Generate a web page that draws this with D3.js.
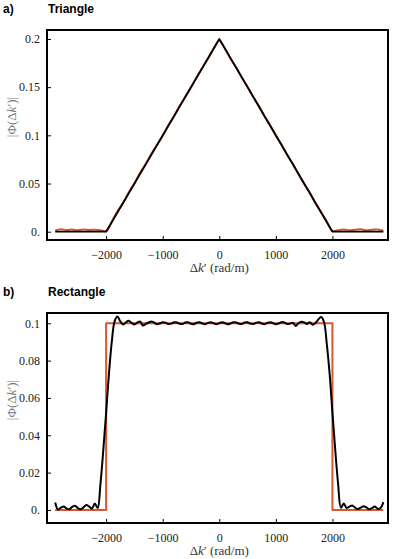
<!DOCTYPE html>
<html>
<head>
<meta charset="utf-8">
<script src="https://cdn.jsdelivr.net/npm/d3@7"></script>
<style>
  body { margin: 0; background: #fff; }
  .tick text { font-family: "Liberation Serif", serif; font-size: 12px; fill: #222; }
  .title { font-family: "Liberation Sans", Arial, sans-serif; font-weight: bold; font-size: 12px; }
  .axis-label { font-family: "Liberation Serif", serif; font-size: 13px; }
</style>
</head>
<body>
<svg id="chart"></svg>
<script>
// x ticks shared by both panels
const xTicks = [-2000, -1000, 0, 1000, 2000];
const triYTicks = [0, 0.05, 0.1, 0.15, 0.2];
const rectYTicks = [0, 0.02, 0.04, 0.06, 0.08, 0.1];

// triangle: target (orange) sampled every 100 rad/m
const triK = [-2900, -2800, -2700, -2600, -2500, -2400, -2300, -2200, -2100, -2000,
  -1900, -1800, -1700, -1600, -1500, -1400, -1300, -1200, -1100, -1000,
  -900, -800, -700, -600, -500, -400, -300, -200, -100, 0,
  100, 200, 300, 400, 500, 600, 700, 800, 900, 1000,
  1100, 1200, 1300, 1400, 1500, 1600, 1700, 1800, 1900, 2000,
  2100, 2200, 2300, 2400, 2500, 2600, 2700, 2800, 2900];
const triTarget = [0.0012, 0.0025, 0.0018, 0.0022, 0.0015, 0.0024, 0.0019, 0.0021, 0.0014, 0.0008,
  0.0104, 0.0212, 0.0297, 0.0406, 0.0503, 0.0611, 0.0702, 0.0809, 0.0901, 0.0996,
  0.1104, 0.1197, 0.1306, 0.1401, 0.1497, 0.1604, 0.1701, 0.1795, 0.1898, 0.1985,
  0.1902, 0.1794, 0.1703, 0.1597, 0.1504, 0.1398, 0.1304, 0.1195, 0.1103, 0.0997,
  0.0904, 0.0796, 0.0705, 0.0599, 0.0497, 0.0408, 0.0296, 0.0203, 0.0106, 0.0009,
  0.0016, 0.0023, 0.0015, 0.0021, 0.0026, 0.0014, 0.0020, 0.0024, 0.0011];
// triangle: result (black)
const triResK = [-2900, -2000, 0, 2000, 2900];
const triResult = [0, 0, 0.2, 0, 0];

// rectangle: target (orange)
const rectK = [-2900, -2000, -2000, 2000, 2000, 2900];
const rectTarget = [0, 0, 0.1, 0.1, 0, 0];
// rectangle: result (black), every 50 rad/m
const rectResK = [-2900, -2850, -2800, -2750, -2700, -2650, -2600, -2550, -2500, -2450,
  -2400, -2350, -2300, -2250, -2200, -2150, -2100, -2050, -2000, -1950,
  -1900, -1850, -1800, -1750, -1700, -1650, -1600, -1550, -1500, -1450,
  -1400, -1350, -1300, -1250, -1200, -1150, -1100, -1050, -1000, -950,
  -900, -850, -800, -750, -700, -650, -600, -550, -500, -450,
  -400, -350, -300, -250, -200, -150, -100, -50, 0, 50,
  100, 150, 200, 250, 300, 350, 400, 450, 500, 550,
  600, 650, 700, 750, 800, 850, 900, 950, 1000, 1050,
  1100, 1150, 1200, 1250, 1300, 1350, 1400, 1450, 1500, 1550,
  1600, 1650, 1700, 1750, 1800, 1850, 1900, 1950, 2000, 2050,
  2100, 2150, 2200, 2250, 2300, 2350, 2400, 2450, 2500, 2550,
  2600, 2650, 2700, 2750, 2800, 2850, 2900];
const rectResult = [0.0040, 0.0002, 0.0012, 0.0018, 0.0008, 0.0004, 0.0016, 0.0022, 0.0010, 0.0004,
  0.0014, 0.0026, 0.0018, 0.0008, 0.0034, 0.0010, 0.0140, 0.0320, 0.0520, 0.0730,
  0.0900, 0.1010, 0.1036, 0.1010, 0.0993, 0.1005, 0.1013, 0.1002, 0.0994, 0.1003,
  0.1010, 0.0988, 0.0996, 0.1004, 0.1010, 0.1003, 0.0995, 0.0999, 0.1006, 0.1003,
  0.0996, 0.0998, 0.1005, 0.1004, 0.0997, 0.0996, 0.1004, 0.1005, 0.0998, 0.0995,
  0.1003, 0.1006, 0.0999, 0.0995, 0.1002, 0.1006, 0.1000, 0.0995, 0.1001, 0.1006,
  0.1001, 0.0995, 0.0999, 0.1005, 0.1004, 0.0997, 0.0996, 0.1004, 0.1005, 0.0998,
  0.0996, 0.1003, 0.1006, 0.0999, 0.0995, 0.1002, 0.1006, 0.1001, 0.0995, 0.0999,
  0.1006, 0.1004, 0.0996, 0.0998, 0.1003, 0.0986, 0.1000, 0.1008, 0.1005, 0.0996,
  0.1006, 0.0992, 0.1002, 0.1020, 0.1034, 0.1008, 0.0890, 0.0730, 0.0520, 0.0320,
  0.0140, 0.0012, 0.0034, 0.0010, 0.0018, 0.0024, 0.0012, 0.0005, 0.0012, 0.0020,
  0.0014, 0.0004, 0.0010, 0.0018, 0.0006, 0.0010, 0.0042];

const width = 395;
const height = 559;
const left = 47, right = 388;
const orange = "#d7582f";

const svg = d3.select("#chart")
  .attr("width", width)
  .attr("height", height);

const x = d3.scaleLinear().domain([-3045, 2982]).range([left, right]);
const fmtX = d => d < 0 ? "\u2212" + Math.abs(d) : String(d);
const fmtY = d => d === 0 ? "0." : String(+d.toFixed(3));

// "Δk′" with italic k
function deltaK(sel) {
  sel.append("tspan").text("\u0394");
  sel.append("tspan").attr("font-style", "italic").text("k");
  sel.append("tspan").text("\u2032");
}

function panel(top, bottom, yDomain, yTicks, series, letter, name, yLabelY) {
  const y = d3.scaleLinear().domain(yDomain).range([bottom, top]);
  const g = svg.append("g");

  // title
  g.append("text").attr("class", "title").attr("x", 3).attr("y", top - 17).text(letter);
  g.append("text").attr("class", "title").attr("x", 48).attr("y", top - 17).text(name);

  // axes with inward ticks
  const ya = g.append("g")
    .attr("transform", `translate(${left},0)`)
    .call(d3.axisLeft(y).tickValues(yTicks).tickFormat(fmtY).tickSizeInner(-4).tickSizeOuter(0).tickPadding(7));
  ya.select(".domain").remove();
  const xa = g.append("g")
    .attr("transform", `translate(0,${bottom})`)
    .call(d3.axisBottom(x).tickValues(xTicks).tickFormat(fmtX).tickSizeInner(-4).tickSizeOuter(0).tickPadding(10));
  xa.select(".domain").remove();
  g.selectAll(".tick line").attr("stroke", "#000").attr("stroke-width", 1);

  // lines
  const line = d3.line().x(d => x(d[0])).y(d => y(d[1]));
  series.forEach(s => {
    const pts = s.k.map((k, i) => [k, s.v[i]]);
    g.append("path")
      .datum(pts)
      .attr("fill", "none")
      .attr("stroke", s.color)
      .attr("stroke-width", s.w)
      .attr("stroke-linejoin", "round")
      .attr("d", line.curve(s.curve)(pts));
  });

  // frame
  g.append("rect")
    .attr("x", left).attr("y", top)
    .attr("width", right - left).attr("height", bottom - top)
    .attr("fill", "none").attr("stroke", "#000").attr("stroke-width", 2);

  // labels
  const yl = g.append("text").attr("class", "axis-label")
    .attr("transform", `translate(16,${yLabelY}) rotate(-90)`)
    .attr("text-anchor", "middle").attr("fill", "#777");
  yl.append("tspan").text("|\u03A6(");
  deltaK(yl);
  yl.append("tspan").text(")|");

  const xl = g.append("text").attr("class", "axis-label")
    .attr("x", x(0)).attr("y", bottom + 32)
    .attr("text-anchor", "middle").attr("fill", "#333");
  deltaK(xl);
  xl.append("tspan").text(" (rad/m)");
}

panel(30, 240, [-0.0086, 0.2093], triYTicks, [
  { k: triK, v: triTarget, color: orange, w: 2, curve: d3.curveCatmullRom },
  { k: triResK, v: triResult, color: "#000", w: 1.8, curve: d3.curveLinear }
], "a)", "Triangle", 117);

panel(313, 523, [-0.007, 0.1055], rectYTicks, [
  { k: rectK, v: rectTarget, color: orange, w: 2, curve: d3.curveLinear },
  { k: rectResK, v: rectResult, color: "#000", w: 2, curve: d3.curveCatmullRom }
], "b)", "Rectangle", 400);
</script>
</body>
</html>
